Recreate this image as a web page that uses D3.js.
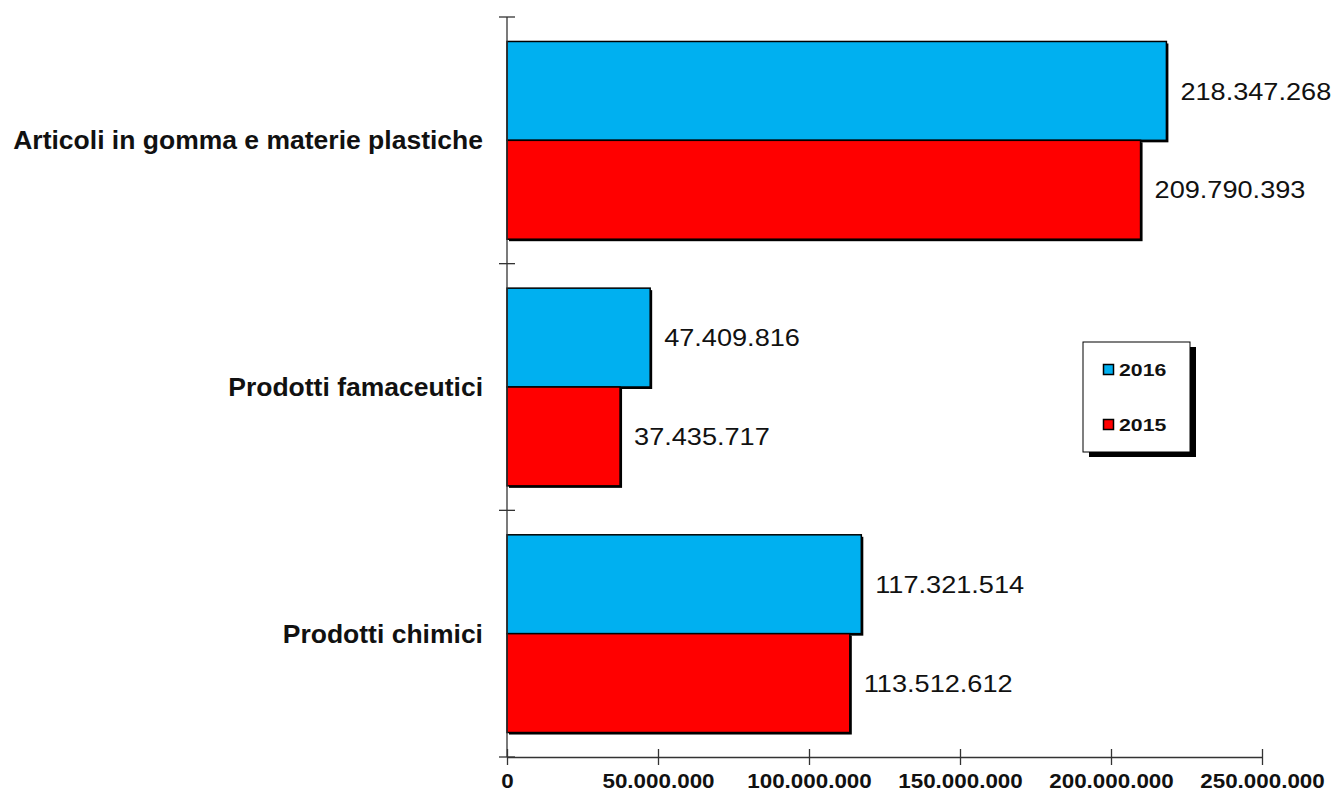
<!DOCTYPE html>
<html><head><meta charset="utf-8">
<script src="https://cdn.jsdelivr.net/npm/d3@7"></script>
<style>body{margin:0;background:#fff}</style>
</head><body>
<svg id="c" width="1334" height="792"></svg>
<script>
const categories = ["Articoli in gomma e materie plastiche", "Prodotti famaceutici", "Prodotti chimici"];
const seriesNames = ["2016", "2015"];
const values2016 = [218347268, 47409816, 117321514];
const values2015 = [209790393, 37435717, 113512612];
const xTicks = [0, 50000000, 100000000, 150000000, 200000000, 250000000];
const colors = ["#00B0F0", "#FF0000"];

const svg = d3.select("#c");
const loc = d3.formatLocale({decimal: ",", thousands: ".", grouping: [3], currency: ["", "€"]});
const fmt = loc.format(",.0f");

function stretch(sel, f) {
  sel.each(function() {
    const w = this.getComputedTextLength();
    d3.select(this).attr("textLength", w * f).attr("lengthAdjust", "spacingAndGlyphs");
  });
}

const x = d3.scaleLinear().domain([0, 250000000]).range([507, 1262]);
const y = d3.scaleBand().domain(categories).range([17, 757]).paddingInner(0).paddingOuter(0);
const inner = d3.scaleBand().domain(seriesNames).range([0, y.bandwidth()]).paddingOuter(0.2475).paddingInner(0);

const series = [values2016, values2015];

const g = svg.append("g");
categories.forEach((cat, i) => {
  series.forEach((vals, s) => {
    const y0 = y(cat) + inner(seriesNames[s]);
    const h = inner.bandwidth();
    const w = x(vals[i]) - x(0);
    g.append("rect").attr("x", x(0) + 2).attr("y", y0 + 2).attr("width", w).attr("height", h).attr("fill", "#000");
    g.append("rect").attr("x", x(0)).attr("y", y0).attr("width", w).attr("height", h)
      .attr("fill", colors[s]).attr("stroke", "#000").attr("stroke-width", 1.5);
    const t = g.append("text").attr("x", x(vals[i]) + 14).attr("y", y0 + h / 2).attr("dy", "0.36em")
      .attr("font-family", "Liberation Sans, Arial, sans-serif").attr("font-size", 24)
      .attr("fill", "#111").text(fmt(vals[i]));
    stretch(t, 1.13);
  });
  const ct = g.append("text").attr("x", 483).attr("y", y(cat) + y.bandwidth() / 2).attr("dy", "0.36em")
    .attr("text-anchor", "end").attr("font-family", "Liberation Sans, Arial, sans-serif")
    .attr("font-size", 25).attr("font-weight", "bold").attr("fill", "#111").text(cat);
  stretch(ct, 1.06);
});

// Y axis
const yAxisG = svg.append("g");
yAxisG.append("line").attr("x1", 507).attr("x2", 507).attr("y1", 17).attr("y2", 757).attr("stroke", "#333").attr("stroke-width", 1.3);
const yTickPos = [17].concat(categories.map(c => y(c) + y.bandwidth()));
yTickPos.forEach(p => {
  yAxisG.append("line").attr("x1", 499).attr("x2", 515).attr("y1", p).attr("y2", p).attr("stroke", "#333").attr("stroke-width", 1.3);
});

// X axis
const xAxis = d3.axisBottom(x).tickValues(xTicks).tickSize(0).tickFormat(d => fmt(d));
const xg = svg.append("g").attr("transform", "translate(0,757)").call(xAxis);
xg.select(".domain").attr("stroke", "#333").attr("stroke-width", 1.3);
xg.selectAll(".tick").append("line").attr("y1", -8).attr("y2", 8).attr("stroke", "#333").attr("stroke-width", 1.3);
xg.selectAll(".tick text").attr("y", 24).attr("dy", "0.36em").attr("fill", "#111")
  .attr("font-family", "Liberation Sans Narrow, Arial Narrow, sans-serif").attr("font-size", 20).attr("font-weight", "bold");
stretch(xg.selectAll(".tick text"), 1.12);

// Legend
const lg = svg.append("g");
lg.append("rect").attr("x", 1089).attr("y", 347).attr("width", 107).attr("height", 110).attr("fill", "#000");
lg.append("rect").attr("x", 1083).attr("y", 342).attr("width", 107).attr("height", 110).attr("fill", "#fff").attr("stroke", "#000").attr("stroke-width", 1);
seriesNames.forEach((n, s) => {
  const cy = 369.5 + s * 55;
  lg.append("rect").attr("x", 1103.5).attr("y", cy - 5).attr("width", 10).attr("height", 10)
    .attr("fill", colors[s]).attr("stroke", "#000").attr("stroke-width", 1.5);
  const lt = lg.append("text").attr("x", 1119).attr("y", cy).attr("dy", "0.36em")
    .attr("font-family", "Liberation Sans, Arial, sans-serif").attr("font-size", 17).attr("font-weight", "bold")
    .attr("fill", "#111").text(n);
  stretch(lt, 1.25);
});
</script>
</body></html>
